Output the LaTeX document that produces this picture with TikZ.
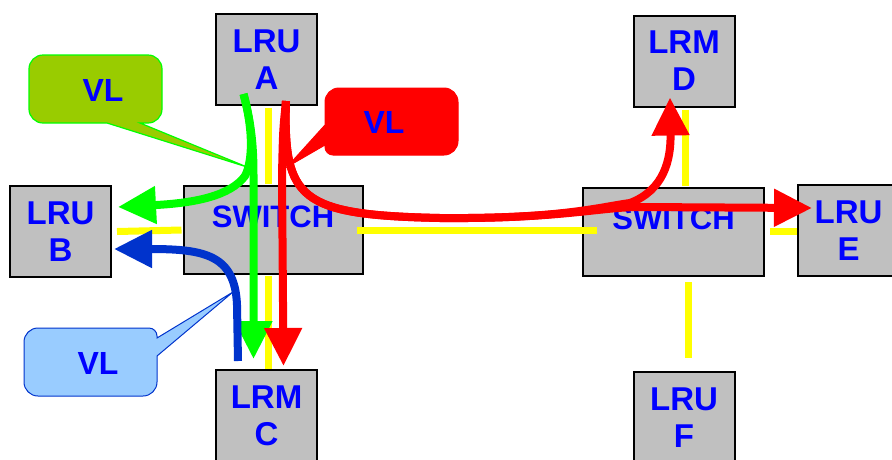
\documentclass[tikz,border=0pt]{standalone}
\usepackage{fontspec}
\setmainfont{Liberation Sans}
\usetikzlibrary{arrows.meta, calc}
\definecolor{boxgray}{HTML}{C0C0C0}
\definecolor{labelblue}{HTML}{0000FF}
\definecolor{wireyellow}{HTML}{FFFF00}
\definecolor{vlgreen}{HTML}{00FF00}
\definecolor{vlred}{HTML}{FF0000}
\definecolor{vlblue}{HTML}{0033CC}
\definecolor{tipgreen}{HTML}{99CC00}
\definecolor{tipblue}{HTML}{99CCFF}

\tikzset{
  unitbox/.style={draw=black, line width=2pt, fill=boxgray, minimum width=101pt, minimum height=91pt,
    align=center, text=labelblue, font=\bfseries\fontsize{33}{37}\selectfont},
  switchbox/.style={unitbox, minimum width=179pt, minimum height=88pt, text depth=26pt,
    font=\bfseries\fontsize{31}{35}\selectfont},
  wire/.style={wireyellow, line width=7pt},
  flow/.style={line width=8pt, -{Triangle[length=38pt, width=36pt]}},
  tiplabel/.style={text=labelblue, font=\bfseries\fontsize{32}{36}\selectfont}
}

\begin{document}
\begin{tikzpicture}[x=1pt, y=-1pt]
  \clip (0,0) rectangle (892,459);
  % Units and switches
  \node[unitbox] (a) at (266.5,59.5) {LRU\\A};
  \node[unitbox] (b) at (60.5,231.5) {LRU\\B};
  \node[unitbox] (c) at (266.5,415.5) {LRM\\C};
  \node[unitbox] (d) at (684,61) {LRM\\D};
  \node[unitbox] (e) at (848.5,230.5) {LRU\\E};
  \node[unitbox] (f) at (684,417.5) {LRU\\F};
  \node[switchbox] (swl) at (273,230) {SWITCH};
  \node[switchbox, minimum width=181pt] (swr) at (673.5,232) {SWITCH};
  % Wiring
  \draw[wire] ($(a.south)+(1.5,2)$) -- ($(swl.north)+(-5,-1)$);
  \draw[wire] ($(b.east)+(5,0)$) -- ($(swl.west)+(-1,0)$);
  \draw[wire] ($(swl.south)+(-5,1)$) -- ($(c.north)+(1.5,0)$);
  \draw[wire] ($(swl.east)+(-7,0)$) -- ($(swr.west)+(15,-2)$);
  \draw[wire] ($(d.south)+(1,2)$) -- ($(swr.north)+(11.5,-1)$);
  \draw[wire] ($(swr.east)+(5,-1)$) -- ($(e.west)+(0,0.5)$);
  \draw[wire] ($(swr.south)+(14.5,5)$) -- ($(f.north)+(4,-13)$);
  % Callouts
  \filldraw[fill=tipgreen, draw=vlgreen, line width=1.2pt]
    (29,89) [rounded corners=14pt] -- (29,55) -- (162,55) -- (162,123) [sharp corners] -- (140,123)
    -- (247,167) -- (107,123) [rounded corners=14pt] -- (29,123) -- cycle;
  \filldraw[fill=vlred, draw=vlred, line width=1pt]
    (391,88) [rounded corners=14pt] -- (458,88) -- (458,155) [rounded corners=8pt] -- (325,155)
    [sharp corners] -- (325,145) -- (287,167) -- (325,125) [rounded corners=14pt] -- (325,88) -- cycle;
  \filldraw[fill=tipblue, draw=vlblue, line width=1pt]
    (90,396) [rounded corners=14pt] -- (24,396) -- (24,328) [rounded corners=8pt] -- (157,328)
    [sharp corners] -- (157,338) -- (233,292) -- (157,356) [rounded corners=14pt] -- (157,396) -- cycle;
  \node[tiplabel] (vlg) at (103,90) {VL};
  \node[tiplabel] (vlr) at (384,122) {VL};
  \node[tiplabel] (vlb) at (98,363) {VL};
  % Virtual links
  \draw[flow, vlgreen] ($(a.south)+(-23,-12)$) .. controls (252,125) and (254,158) .. (245,176)
    .. controls (230,196) and (195,203) .. ($(b.east)+(6,-24.5)$);
  \draw[flow, vlgreen] ($(a.south)+(-23,-12)$) .. controls (252,125) and (253.5,150) .. (253.5,175)
    -- ($(c.north)+(-13,-10)$);
  \draw[flow, vlred] ($(a.south)+(19.5,-5)$) .. controls (283,130) .. (282,175) -- ($(c.north)+(17,-3)$);
  \draw[flow, vlred] ($(a.south)+(19.5,-5)$) .. controls (283,200) and (300,215) .. (440,218)
    .. controls (560,219) and (600,207) .. (640,207) -- ($(e.west)+(15,-22.5)$);
  \draw[flow, vlred] ($(a.south)+(19.5,-5)$) .. controls (283,200) and (300,215) .. (440,218)
    .. controls (560,219) and (600,207) .. (630,203) .. controls (664,190) and (671,160) .. ($(d.south)+(-14,-10)$);
  \draw[flow, vlblue] ($(c.north)+(-28.5,-8)$) -- (237,305) .. controls (235,255) and (205,249)
    .. ($(b.east)+(2,17.5)$);
\end{tikzpicture}
\end{document}
